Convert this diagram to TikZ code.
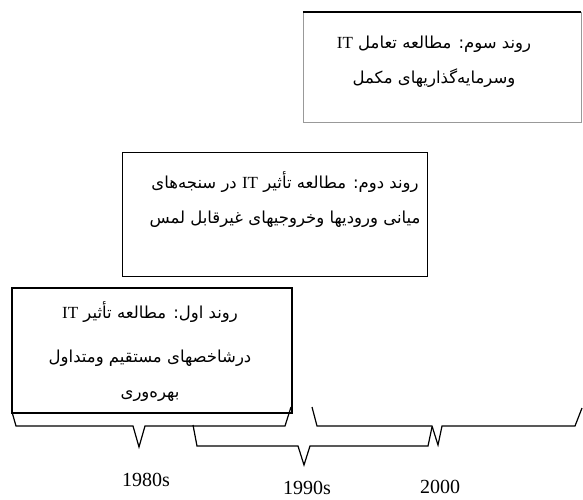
\documentclass[tikz,border=0pt]{standalone}
\usepackage{fontspec}
\setmainfont{Liberation Serif}
\newfontfamily\farsi[Script=Arabic]{DejaVu Sans}
\TeXXeTstate=1
\usetikzlibrary{positioning}
\newcommand{\rtl}[1]{\beginR #1\endR}
\newcommand{\latinIT}{\beginL{\rmfamily\fontsize{17}{17}\selectfont IT}\endL}
\tikzset{
  roundbox/.style={draw, line width=1pt, inner sep=0pt},
  roundtext/.style={align=center, font=\farsi\fontsize{16.5}{35}\selectfont},
  yearlabel/.style={font=\fontsize{20}{20}\selectfont, inner sep=1pt},
  bracket/.style={line width=1.2pt, line join=miter}
}

\begin{document}
\begin{tikzpicture}[x=1pt,y=-1pt]
\useasboundingbox (0,0) rectangle (583,499);
% third round (top)
\node[roundbox, draw=black!40, line width=0.5pt, minimum width=278pt, minimum height=110pt] (r3) at (442,67) {};
\draw[line width=1.6pt] (r3.north west) -- (r3.north east);
\node[roundtext] (r3t) at (434,62) {\rtl{روند سوم: مطالعه تعامل \latinIT}\\\rtl{وسرمایه‌گذاریهای مکمل}};
% second round
\node[roundbox, minimum width=305pt, minimum height=124pt] (r2) at (274.5,214) {};
\node[roundtext] (r2t) at (285,200) {\rtl{روند دوم: مطالعه تأثیر \latinIT{} در سنجه‌های}\\\rtl{میانی ورودیها وخروجیهای غیرقابل لمس}};
% first round
\node[roundbox, line width=1.3pt, minimum width=280pt, minimum height=125pt] (r1) at (152,350.5) {};
\node[roundtext] (r1t) at (150,352) {\rtl{روند اول: مطالعه تأثیر \latinIT}\\[9pt]\rtl{درشاخصهای مستقیم ومتداول}\\\rtl{بهره‌وری}};
% braces
\coordinate (tip80) at (139,447);
\coordinate (tip90) at (304,465);
\coordinate (tip00) at (438,445);
\draw[bracket] (12,412) -- (16,426) -- (133,426) -- (tip80) -- (145,426) -- (285,426) -- (291,407);
\draw[bracket] (193,425) -- (197,446) -- (298,446) -- (tip90) -- (310,446) -- (428,446) -- (432,427);
\draw[bracket] (312,407) -- (317,426) -- (432,426) -- (tip00) -- (442,426) -- (575,426) -- (582,408);
% decades
\node[yearlabel] (d80) at (146,480) {1980s};
\node[yearlabel] (d90) at (307,488) {1990s};
\node[yearlabel] (d00) at (440,487) {2000};
\end{tikzpicture}
\end{document}
